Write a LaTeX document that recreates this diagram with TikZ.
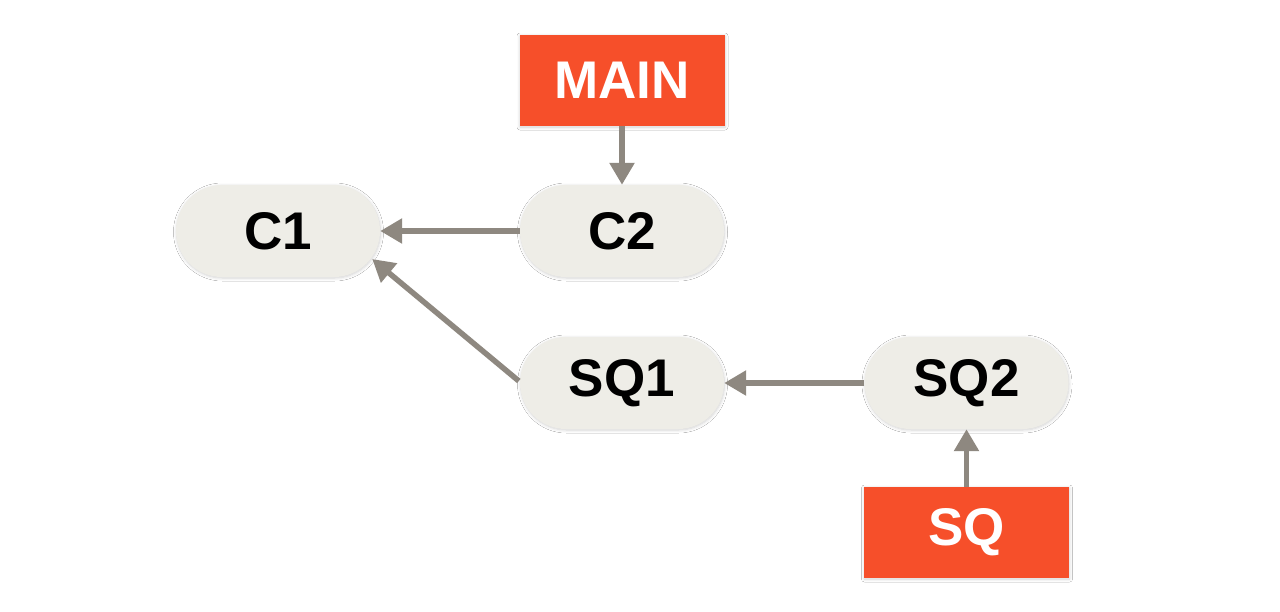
\documentclass[tikz,border=0pt]{standalone}
\usepackage{fontspec}
\setmainfont{Liberation Sans}
\usetikzlibrary{arrows.meta,shadows.blur,calc}
\definecolor{pillfill}{HTML}{EEEDE7}
\definecolor{tagfill}{HTML}{F64F2A}
\definecolor{arrowc}{HTML}{8E8880}
\tikzset{
  softshadow/.style={blur shadow={shadow xshift=0.5pt, shadow yshift=-1pt, shadow blur radius=3pt, shadow blur steps=6, shadow opacity=18}},
  commit/.style={draw=none, fill=pillfill, minimum width=204pt, minimum height=92pt,
    rounded corners=46pt, inner sep=0pt, text=black,
    font=\fontsize{53}{60}\selectfont\bfseries, softshadow},
  tag/.style={draw=none, fill=tagfill, minimum width=205pt, minimum height=91pt,
    inner sep=0pt, text=white, font=\fontsize{53}{60}\selectfont\bfseries, softshadow},
  link/.style={draw=arrowc, line width=5.5pt, -{Triangle[length=22pt,width=24pt]}}
}
\begin{document}
\begin{tikzpicture}[x=1pt,y=-1pt]
\useasboundingbox[fill=white] (0,0) rectangle (1280,611);
\node[commit] (C1) at (278,231) {C1};
\node[commit] (C2) at (622,231) {C2};
\node[commit] (SQ1) at (622,383) {SQ1};
\node[commit] (SQ2) at (966.5,383) {SQ2};
\node[tag] (MAIN) at (622,80.5) {MAIN};
\node[tag] (SQ) at (966.5,532.5) {SQ};
\draw[link] (MAIN.south) -- (C2.north);
\draw[link] (C2.west) -- (C1.east);
\coordinate (c1tip) at ($(C1.east)+(-8,28)$);
\coordinate (sq1start) at ($(SQ1.west)+(-1,-2)$);
\draw[link] (sq1start) -- (c1tip);
\draw[link] (SQ2.west) -- (SQ1.east);
\draw[link] (SQ.north) -- (SQ2.south);
\end{tikzpicture}
\end{document}
